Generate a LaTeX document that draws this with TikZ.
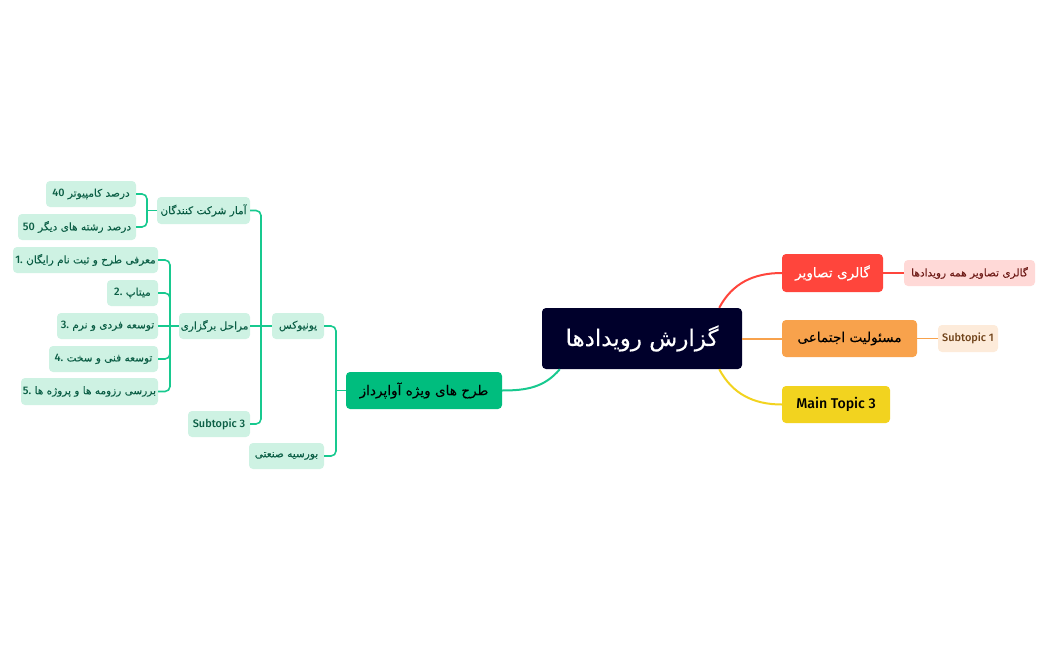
\documentclass[tikz,border=0pt]{standalone}
\usepackage{fontspec}
\setmainfont[UprightFont={* Medium},Scale=1.04]{Fira Sans}
\newfontfamily\farsi[Script=Arabic,FakeBold=0.1]{DejaVu Sans}
\TeXXeTstate=1
\newcommand{\fa}[1]{{\farsi\beginR #1\endR}}
\newcommand{\en}[1]{\beginL{\rmfamily #1}\endL}
\definecolor{rootcol}{HTML}{00002B}
\definecolor{greencol}{HTML}{00BD7E}
\definecolor{greenline}{HTML}{18C98F}
\definecolor{greenpale}{HTML}{CEF2E3}
\definecolor{greentext}{HTML}{0B5E45}
\definecolor{redcol}{HTML}{FF453C}
\definecolor{redpale}{HTML}{FFD9D7}
\definecolor{redtext}{HTML}{6E1B17}
\definecolor{orangecol}{HTML}{F8A24C}
\definecolor{orangepale}{HTML}{FDEBDA}
\definecolor{orangetext}{HTML}{70431A}
\definecolor{yellowcol}{HTML}{F2D31F}
\tikzset{
  box/.style={rounded corners=4pt,inner sep=0pt,minimum height=26pt},
  sub/.style={box,fill=greenpale,text=greentext,font=\fontsize{10.5}{12}\selectfont},
  topic/.style={box,minimum height=37pt,font=\fontsize{13.6}{16}\selectfont},
  wire/.style={line width=1.6pt,rounded corners=5pt},
}
\begin{document}
\begin{tikzpicture}[x=1pt,y=-1pt]
  \useasboundingbox (0,0) rectangle (1049,650);
  % centre and branches
  \node[box,fill=rootcol,text=white,minimum width=200pt,minimum height=61pt,font=\fontsize{23}{27}\selectfont] (root) at (642,338.5) {\fa{گزارش رویدادها}};
  \node[topic,fill=greencol,text=black,minimum width=156pt] (plan) at (424,390.5) {\fa{طرح های ویژه آواپرداز}};
  \node[topic,fill=redcol,text=white,minimum width=101pt,minimum height=38pt] (gallery) at (832.5,273) {\fa{گالری تصاویر}};
  \node[topic,fill=orangecol,text=black,minimum width=135pt] (social) at (849.5,338.5) {\fa{مسئولیت اجتماعی}};
  \node[topic,fill=yellowcol,text=black,minimum width=108pt] (topicc) at (836,404.5) {Main Topic 3};
  \node[sub,fill=redpale,text=redtext,minimum width=131pt] (allpics) at (969.5,273) {\fa{گالری تصاویر همه رویدادها}};
  \node[sub,fill=orangepale,text=orangetext,minimum width=60pt,minimum height=27pt] (subone) at (968,338.5) {Subtopic 1};
  % left side
  \node[sub,minimum width=52pt] (unix) at (298,326) {\fa{یونیوکس}};
  \node[sub,minimum width=75pt] (bours) at (286.5,456) {\fa{بورسیه صنعتی}};
  \node[sub,minimum width=93pt,minimum height=27pt] (amar) at (203.5,210.5) {\fa{آمار شرکت کنندگان}};
  \node[sub,minimum width=71pt] (steps) at (214.5,326) {\fa{مراحل برگزاری}};
  \node[sub,minimum width=62pt] (subc) at (219,424) {Subtopic 3};
  \node[sub,minimum width=90pt] (comp) at (91,194) {\fa{درصد کامپیوتر \en{40}}};
  \node[sub,minimum width=118pt] (other) at (77,227) {\fa{درصد رشته های دیگر \en{50}}};
  \node[sub,minimum width=145pt] (sa) at (85.5,260) {\fa{معرفی طرح و ثبت نام رایگان \en{1.}}};
  \node[sub,minimum width=51pt] (sb) at (132.5,293) {\fa{میتاپ \en{2.}}};
  \node[sub,minimum width=101pt] (sc) at (107.5,326) {\fa{توسعه فردی و نرم \en{3.}}};
  \node[sub,minimum width=109pt] (sd) at (103.5,359) {\fa{توسعه فنی و سخت \en{4.}}};
  \node[sub,minimum width=137pt,minimum height=27pt] (se) at (89.5,391.5) {\fa{بررسی رزومه ها و پروژه ها \en{5.}}};
  % junctions of the green trunks
  \coordinate (jplan) at (336,390.5);
  \coordinate (junix) at (261,326);
  \coordinate (jamar) at (147,210.5);
  \coordinate (jsteps) at (170,326);
  % root to main topics
  \draw[redcol,line width=2pt] ([xshift=-23pt]root.north east) to[out=62,in=180] (gallery.west);
  \draw[orangecol,line width=2pt] (root.east) -- (social.west);
  \draw[yellowcol,line width=2pt] ([xshift=-23pt]root.south east) to[out=-62,in=180] (topicc.west);
  \draw[greenline,line width=2pt] ([xshift=18pt]root.south west) to[out=-130,in=0] (plan.east);
  \draw[redcol,line width=1.6pt] (gallery.east) -- (allpics.west);
  \draw[orangecol,line width=1.6pt] (social.east) -- (subone.west);
  % green trees
  \draw[greenline,wire] (plan.west) -- (jplan);
  \draw[greenline,wire] (unix.east) -| (jplan) |- (bours.east);
  \draw[greenline,wire] (unix.west) -- (steps.east);
  \draw[greenline,wire] (amar.east) -| (junix) |- (subc.east);
  \draw[greenline,wire] (steps.west) -- (sc.east);
  \draw[greenline,wire] (sa.east) -| (jsteps) |- (se.east);
  \draw[greenline,wire] (sb.east) -| (jsteps);
  \draw[greenline,wire] (sd.east) -| (jsteps);
  \draw[greenline,wire] (comp.east) -| (jamar) |- (other.east);
  \draw[greenline,wire] (jamar) -- (amar.west);
\end{tikzpicture}
\end{document}
